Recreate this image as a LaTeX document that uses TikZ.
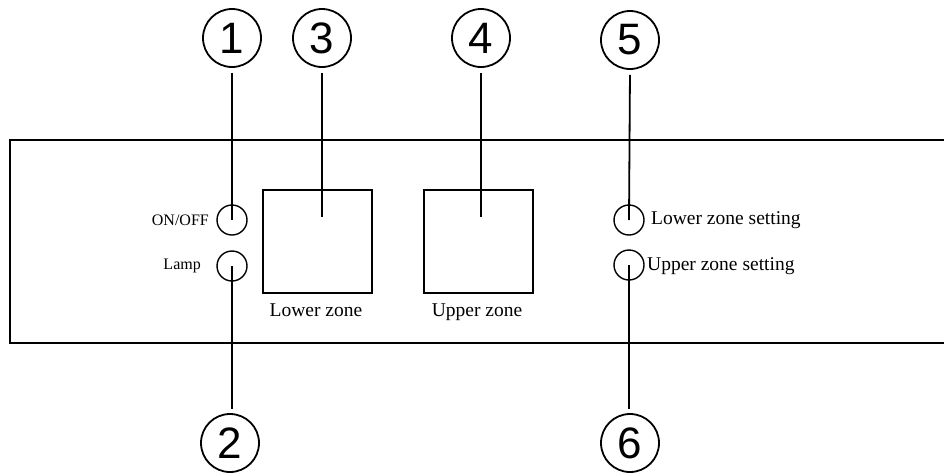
\documentclass[tikz,border=0pt]{standalone}
\usepackage{fontspec}
\setmainfont{Liberation Serif}
\newfontfamily\digitfont{Liberation Sans}
\begin{document}
\begin{tikzpicture}[x=1pt,y=-1pt,
  numcirc/.style={draw,circle,line width=1.8pt,minimum size=58pt,inner sep=0pt,font=\digitfont\fontsize{44}{44}\selectfont},
  knob/.style={draw,circle,line width=1.4pt,minimum size=30pt,inner sep=0pt},
  zonebox/.style={draw,line width=1.2pt,minimum width=109pt,minimum height=103pt,inner sep=0pt},
  lbl/.style={font=\fontsize{16}{16}\selectfont,inner sep=0pt},
  biglbl/.style={font=\fontsize{19.5}{19.5}\selectfont,inner sep=0pt},
  leader/.style={line width=1.8pt}]
\useasboundingbox (0,0) rectangle (944,474);
\fill[white] (0,0) rectangle (944,474);
% panel (open on the right)
\draw[line width=1.8pt] (946,140) -- (10,140) -- (10,343) -- (946,343);
% number circles
\node[numcirc] (n1) at (232,38) {1};
\node[numcirc] (n3) at (322,38) {3};
\node[numcirc] (n4) at (481,38) {4};
\node[numcirc] (n5) at (630,40) {5};
\node[numcirc] (n2) at (230,443) {2};
\node[numcirc] (n6) at (630,443) {6};
% knobs
\node[knob] (s1) at (232,220) {};
\node[knob] (s2) at (232,266) {};
\node[knob] (s5) at (629,220) {};
\node[knob] (s6) at (629,265) {};
% zone displays
\node[zonebox] (b3) at (317.5,241.5) {};
\node[zonebox] (b4) at (478.5,241.5) {};
\coordinate (c3) at (322,217);
\coordinate (c4) at (481,217);
% labels
\node[lbl,anchor=east] (t1) at (209,220) {ON/OFF};
\node[lbl,anchor=east] (t2) at (201,266) {Lamp};
\node[biglbl,anchor=west] (t5) at (651,220) {Lower zone setting};
\node[biglbl,anchor=west] (t6) at (647,266) {Upper zone setting};
\node[biglbl] (t3) at (316,310) {Lower zone};
\node[biglbl] (t4) at (477,312) {Upper zone};
% leaders
\draw[leader,shorten <=5pt] (n1.south) -- (s1.center);
\draw[leader,shorten <=5pt] (n3.south) -- (c3);
\draw[leader,shorten <=5pt] (n4.south) -- (c4);
\draw[leader,shorten <=5pt] (n5.south) -- (s5.center);
\draw[leader,shorten >=4pt] (s2.center) -- (s2.center |- n2.north);
\draw[leader,shorten >=4pt] (s6.center) -- (s6.center |- n6.north);
\end{tikzpicture}
\end{document}
